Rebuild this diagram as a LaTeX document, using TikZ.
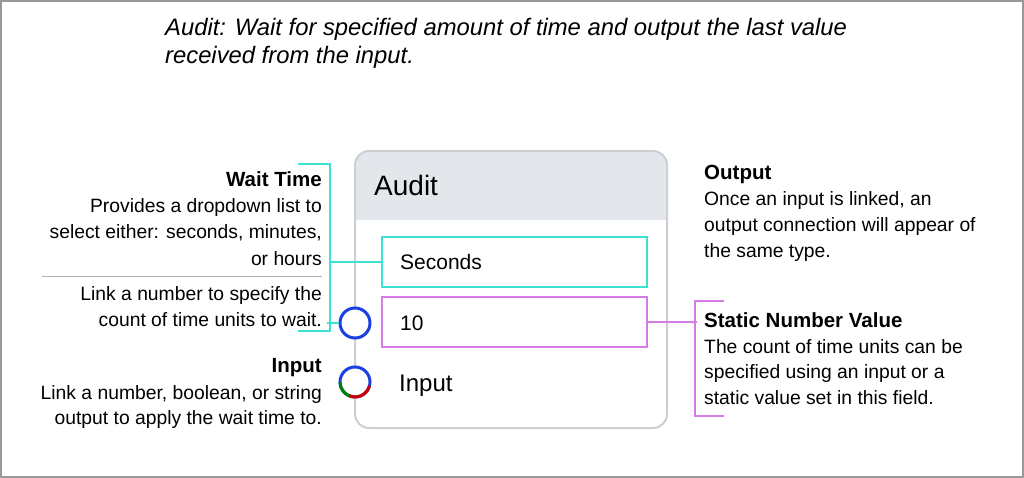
\documentclass[tikz,border=0pt]{standalone}
\usepackage{fontspec}
\setmainfont{Liberation Sans}
\begin{document}
\begin{tikzpicture}[x=1pt,y=-1pt,
  cyanc/.style={draw=cy,line width=1.8pt},
  violc/.style={draw=vi,line width=1.8pt},
  lbl/.style={anchor=base east,inner sep=0,font=\fontsize{19.3}{22}\selectfont},
  rbl/.style={anchor=base west,inner sep=0,font=\fontsize{19.3}{22}\selectfont},
  hb/.style={font=\fontsize{20.5}{22}\selectfont\bfseries},
  field/.style={draw,line width=1.8pt,fill=white,minimum width=265pt,minimum height=50pt,anchor=north west,inner sep=0}]
\definecolor{cy}{HTML}{3EE0D2}
\definecolor{vi}{HTML}{D77BE8}
\definecolor{hd}{HTML}{E3E6EB}
\definecolor{bl}{HTML}{1B3FE0}
\useasboundingbox (0,0) rectangle (1024,478);
\draw[gray!80,line width=2pt] (1,1) rectangle (1023,477);
\node[anchor=base west,inner sep=0,font=\fontsize{23.8}{28}\selectfont\itshape,align=left] (title) at (165,64) {Audit: Wait for specified amount of time and output the last value\\received from the input.};
% node box
\begin{scope}
\clip[rounded corners=14pt] (355,151) rectangle (667,428);
\fill[white] (355,151) rectangle (667,428);
\fill[hd] (355,151) rectangle (667,220);
\end{scope}
\draw[hd!90!black,line width=2pt,rounded corners=14pt] (355,151) rectangle (667,428);
\node[anchor=base west,inner sep=0,font=\fontsize{28}{30}\selectfont] (audit) at (374,196) {Audit};
\node[field,draw=cy] (sec) at (381,236) {};
\node[rbl,font=\fontsize{21}{24}\selectfont] at (400,269) {Seconds};
\node[field,draw=vi] (ten) at (381,296) {};
\node[rbl,font=\fontsize{21}{24}\selectfont] at (400,330) {10};
\node[rbl,font=\fontsize{24}{26}\selectfont] at (399,391) {Input};
\node[circle,draw=bl,fill=white,line width=3pt,minimum size=30pt,inner sep=0] (num) at (355,323) {};
\node[circle,draw=bl,fill=white,line width=3pt,minimum size=30pt,inner sep=0] (inp) at (355,382) {};
\draw[line width=3pt,green!50!black] ([shift={(180:15)}]inp.center) arc (180:100:15);
\draw[line width=3pt,red!80!black] ([shift={(112:15)}]inp.center) arc (112:15:15);
% left bracket
\coordinate (lt) at (298,164); \coordinate (lb) at (298,331);
\draw[cyanc] (lt) -- (330,164) -- (330,331) -- (lb);
\draw[cyanc] (sec.west) -- ++(-51,0);
\draw[cyanc] (num.west) -- ++(-12,0);
\node[lbl,hb] at (322,187) {Wait Time};
\node[lbl] at (322,213) {Provides a dropdown list to};
\node[lbl] at (322,239) {select either: seconds, minutes,};
\node[lbl] at (322,265) {or hours};
\draw[gray!60,line width=0.8pt] (42,276) -- (322,276);
\node[lbl] at (322,300) {Link a number to specify the};
\node[lbl] at (322,326) {count of time units to wait.};
\node[lbl,hb] at (322,372) {Input};
\node[lbl] at (322,399) {Link a number, boolean, or string};
\node[lbl] at (322,424) {output to apply the wait time to.};
% right
\node[rbl,hb] at (704,180) {Output};
\node[rbl] at (704,206) {Once an input is linked, an};
\node[rbl] at (704,232) {output connection will appear of};
\node[rbl] at (704,258) {the same type.};
\coordinate (rt) at (724,301); \coordinate (rb) at (724,416);
\draw[violc] (rt) -- (695,301) -- (695,416) -- (rb);
\draw[violc] (ten.east) -- ++(49,0);
\node[rbl,hb] at (704,327) {Static Number Value};
\node[rbl] at (704,353) {The count of time units can be};
\node[rbl] at (704,378) {specified using an input or a};
\node[rbl] at (704,404) {static value set in this field.};
\end{tikzpicture}
\end{document}
